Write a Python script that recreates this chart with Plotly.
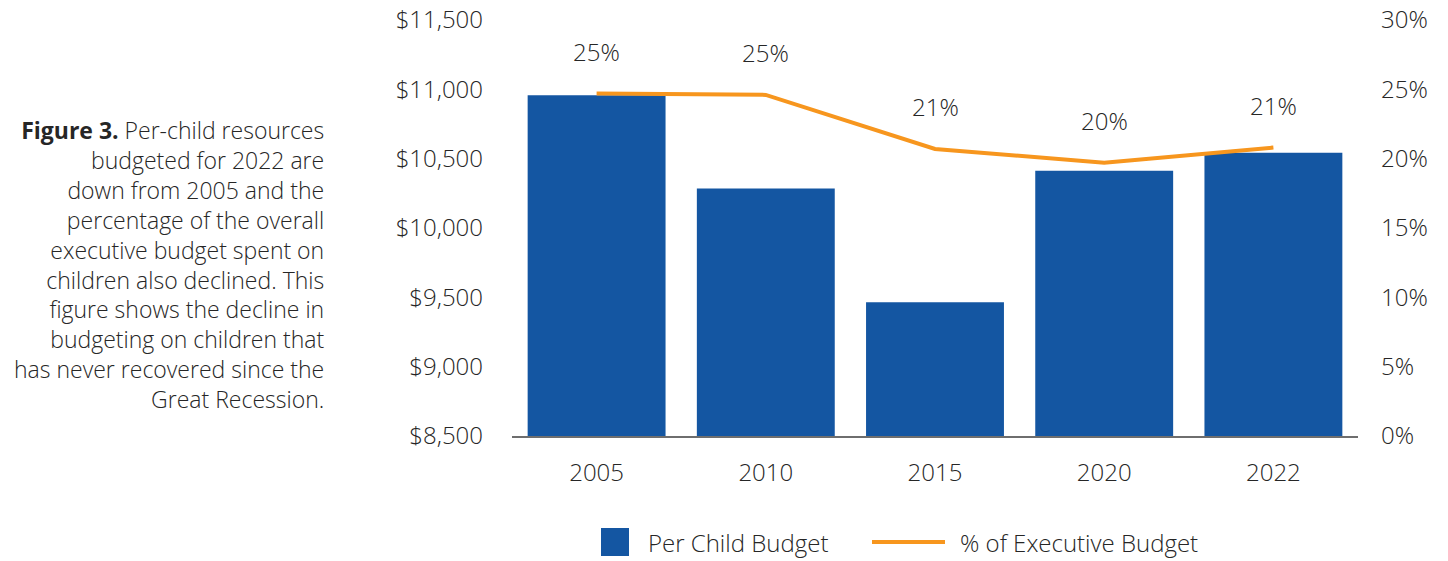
import plotly.graph_objects as go

years = ["2005", "2010", "2015", "2020", "2022"]
per_child = [10957, 10285, 9464, 10413, 10543]
pct_exec = [24.7, 24.6, 20.7, 19.7, 20.8]
pct_labels = ["25%", "25%", "21%", "20%", "21%"]

left_ticks = [8500, 9000, 9500, 10000, 10500, 11000, 11500]
left_tick_text = ["$8,500", "$9,000", "$9,500", "$10,000", "$10,500", "$11,000", "$11,500"]
right_ticks = [0, 5, 10, 15, 20, 25, 30]
right_tick_text = ["0%", "5%", "10%", "15%", "20%", "25%", "30%"]

caption_lines = [
    "<b>Figure 3.</b> Per-child resources",
    "budgeted for 2022 are",
    "down from 2005 and the",
    "percentage of the overall",
    "executive budget spent on",
    "children also declined. This",
    "figure shows the decline in",
    "budgeting on children that",
    "has never recovered since the",
    "Great Recession.",
]

BLUE = "#1456a2"
ORANGE = "#f7961e"
TXT = "#262626"
FONT = "Open Sans"
FS = 24

W, H = 1448, 561
ML, MR, MT, MB = 512, 90, 20, 125
PW, PH = W - ML - MR, H - MT - MB


def px(xp):
    return (xp - ML) / PW


def py(yp):
    return (H - MB - yp) / PH


def tf(size=FS):
    return dict(family=FONT, size=size, color=TXT, weight=300)


fig = go.Figure()
fig.add_trace(go.Bar(x=years, y=per_child, name="Per Child Budget", marker_color=BLUE,
                     marker_line_width=0, yaxis="y", showlegend=False))
fig.add_trace(go.Scatter(x=years, y=pct_exec, name="% of Executive Budget", mode="lines",
                         line=dict(color=ORANGE, width=4), yaxis="y2", showlegend=False))

for i, (v, lab) in enumerate(zip(pct_exec, pct_labels)):
    fig.add_annotation(x=i, y=v, xref="x", yref="y2", text=lab, showarrow=False,
                       yshift=42, font=tf())

# caption
fig.add_annotation(x=px(326), y=py(264), xref="paper", yref="paper",
                   text="<br>".join(caption_lines), showarrow=False, align="right",
                   xanchor="right", yanchor="middle", font=tf(23))

# legend (custom, to match swatch sizes)
fig.add_shape(type="rect", xref="paper", yref="paper", x0=px(601), x1=px(629),
              y0=py(556), y1=py(528), fillcolor=BLUE, line_width=0)
fig.add_annotation(x=px(646), y=py(542), xref="paper", yref="paper", text="Per Child Budget",
                   showarrow=False, xanchor="left", yanchor="middle", font=tf())
fig.add_shape(type="line", xref="paper", yref="paper", x0=px(872), x1=px(945),
              y0=py(542), y1=py(542), line=dict(color=ORANGE, width=4))
fig.add_annotation(x=px(958), y=py(542), xref="paper", yref="paper",
                   text="% of Executive Budget", showarrow=False, xanchor="left",
                   yanchor="middle", font=tf())

fig.update_layout(
    width=W, height=H,
    margin=dict(l=ML, r=MR, t=MT, b=MB, autoexpand=False),
    paper_bgcolor="white", plot_bgcolor="white",
    font=tf(),
    bargap=0.185,
    showlegend=False,
    xaxis=dict(type="category", range=[-0.5, 4.5], showgrid=False, showline=True,
               linecolor="#6e6e6e", linewidth=2, ticks="", ticklabelstandoff=14,
               automargin=False, tickfont=tf()),
    yaxis=dict(range=[8500, 11500], tickvals=left_ticks, ticktext=left_tick_text,
               showgrid=False, zeroline=False, showline=False, ticks="",
               ticklabelstandoff=28, automargin=False, tickfont=tf()),
    yaxis2=dict(range=[0, 30], tickvals=right_ticks, ticktext=right_tick_text,
                overlaying="y", side="right", showgrid=False, zeroline=False,
                showline=False, ticks="", ticklabelstandoff=22, automargin=False,
                tickfont=tf()),
)

fig.write_html("out.html")
